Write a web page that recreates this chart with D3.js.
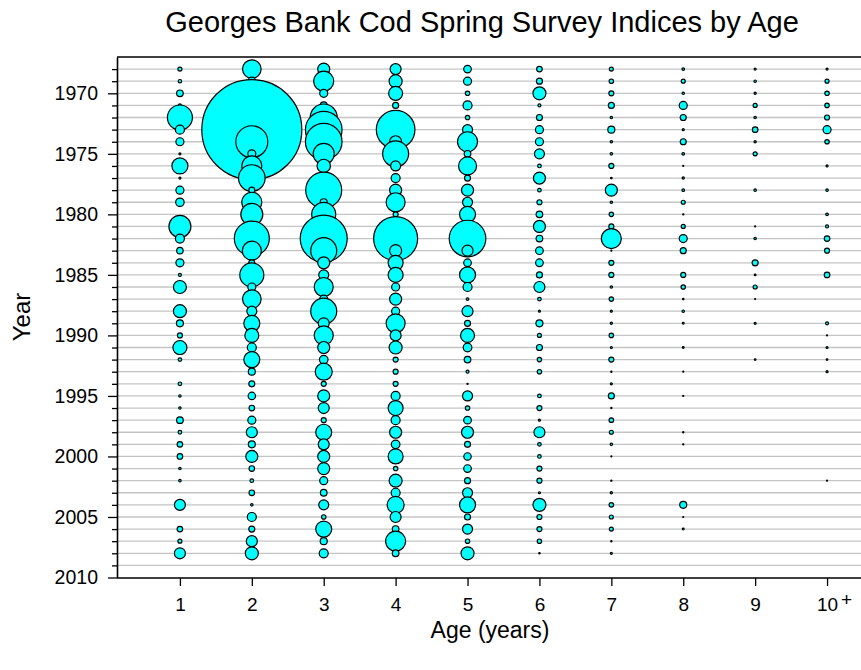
<!DOCTYPE html>
<html>
<head>
<meta charset="utf-8">
<script src="https://cdn.jsdelivr.net/npm/d3@7"></script>
<style>
  html, body { margin: 0; padding: 0; background: #ffffff; }
  svg { display: block; font-family: "Liberation Sans", Arial, sans-serif; }
</style>
</head>
<body>
<svg id="chart" width="861" height="670"></svg>
<script>
// ---------------- DATA ----------------
const years = d3.range(1968, 2009); // 1968..2008
const ages = [1, 2, 3, 4, 5, 6, 7, 8, 9, 10];
const ageLabels = ["1", "2", "3", "4", "5", "6", "7", "8", "9", "10"];
const yearTicks = [1970, 1975, 1980, 1985, 1990, 1995, 2000, 2005, 2010];

// survey index values (relative units), one value per year 1968..2008
const age1 = [0.16, 0.116, 0.44, 0.09, 6.25, 0.81, 0.64, 0.04, 2.56, 0.04,
  0.64, 0.71, 0, 4.84, 0.81, 0.41, 0.64, 0.09, 1.69, 0,
  1.69, 0.49, 0.25, 1.96, 0.13, 0, 0.13, 0.058, 0.058, 0.44,
  0.13, 0.31, 0.31, 0.058, 0.058, 0, 1.21, 0, 0.31, 0.16, 1.21];
const age2 = [3.46, 0.64, 1.44, 1.44, 2.56, 100, 10.24, 0.64, 4.0, 7.08,
  0.36, 4.0, 4.84, 1.0, 12.25, 3.61, 0.36, 5.76, 0.64, 3.46,
  1.0, 2.56, 1.96, 0.81, 2.56, 0.49, 0.36, 0.55, 0.31, 0.64,
  1.21, 0.49, 1.44, 0.31, 0.13, 0.31, 0.058, 0.81, 0.36, 1.21, 1.69];
const age3 = [1.44, 4.0, 0.64, 0.49, 7.29, 13.4, 13.4, 4.41, 1.8, 0.64,
  12.96, 0.49, 5.76, 1.44, 22.09, 6.76, 1.44, 1.0, 3.61, 0.64,
  6.76, 1.21, 3.61, 1.44, 0.74, 2.89, 0.25, 1.44, 1.21, 0.25,
  2.56, 1.21, 1.44, 1.44, 0.64, 0.44, 1.0, 0.194, 2.56, 0.49, 0.81];
const age4 = [1.21, 1.69, 1.96, 0.36, 1.0, 14.9, 1.44, 6.76, 1.0, 0.81,
  1.44, 3.61, 0.25, 1.0, 19.36, 1.44, 2.25, 2.25, 0.64, 1.44,
  0.64, 3.61, 1.21, 1.69, 0.25, 0.25, 0.25, 0.81, 2.25, 0.81,
  1.44, 0.74, 2.25, 0.194, 1.69, 0.81, 2.89, 1.21, 0.44, 4.0, 0.44];
const age5 = [0.58, 0.64, 0.194, 0.81, 0.194, 1.0, 4.0, 0.44, 3.24, 0.36,
  1.44, 1.0, 2.56, 0.64, 13.4, 1.21, 0.58, 2.56, 0.81, 0.068,
  1.21, 0.36, 1.96, 0.74, 0.44, 0.09, 0.014, 1.0, 0.194, 0.58,
  1.44, 0.36, 0.55, 0.58, 0.36, 1.0, 2.56, 0.36, 1.0, 0.194, 1.69];
const age6 = [0.31, 0.36, 1.69, 0.09, 0.36, 0.64, 0.64, 1.0, 0.13, 1.44,
  0.13, 0.25, 0.44, 1.44, 0.44, 0.58, 0.58, 0.36, 1.21, 0.13,
  0.04, 0.49, 0.16, 0.36, 0.194, 0.194, 0, 0.13, 0.25, 0.04,
  1.21, 0.13, 0.13, 0.25, 0.25, 0.04, 1.69, 0.25, 0.25, 0.194, 0.02];
const age7 = [0.16, 0.194, 0.25, 0.36, 0.058, 0.49, 0.058, 0.058, 0.25, 0.026,
  1.44, 0.058, 0.194, 0.25, 4.0, 0.01, 0.25, 0.25, 0.058, 0.194,
  0.04, 0.048, 0.194, 0.04, 0.25, 0.014, 0.04, 0.36, 0.014, 0.21,
  0.16, 0.058, 0.01, 0, 0.014, 0.048, 0.21, 0.16, 0.16, 0.014, 0.04];
const age8 = [0.068, 0.16, 0.058, 0.64, 0.36, 0.04, 0.36, 0.068, 0.01, 0.048,
  0.068, 0.16, 0.014, 0.16, 0.64, 0.36, 0, 0.25, 0.194, 0.02,
  0.058, 0.032, 0, 0.032, 0, 0.01, 0, 0.01, 0, 0,
  0.014, 0.014, 0, 0, 0, 0, 0.49, 0.01, 0.032, 0, 0];
const age9 = [0.04, 0.058, 0.048, 0.16, 0.058, 0.31, 0.048, 0.16, 0, 0,
  0.058, 0, 0, 0.01, 0.058, 0, 0.36, 0.026, 0.16, 0.01,
  0, 0.04, 0, 0, 0.026, 0, 0, 0, 0, 0,
  0, 0, 0, 0, 0, 0, 0, 0, 0, 0, 0];
const age10 = [0.04, 0.16, 0.194, 0.194, 0.25, 0.64, 0.194, 0, 0.04, 0,
  0.058, 0, 0.068, 0.09, 0.31, 0.25, 0, 0.31, 0, 0,
  0, 0.09, 0.01, 0.04, 0.026, 0.04, 0, 0, 0, 0,
  0, 0, 0, 0, 0.01, 0, 0, 0, 0, 0, 0];

const seriesByAge = [age1, age2, age3, age4, age5, age6, age7, age8, age9, age10];

// ---------------- LAYOUT ----------------
const svg = d3.select("#chart");
const plotLeft = 117, plotRight = 861, plotTop = 57, plotBottom = 577.5;

const x = d3.scaleLinear().domain([0.125, 10.5]).range([plotLeft, 863]);
const y = d3.scaleLinear().domain([1967, 2010]).range([plotTop, plotBottom]);
const maxVal = d3.max(seriesByAge, s => d3.max(s));
const r = d3.scaleSqrt().domain([0, maxVal]).range([0, 50]);

// gridlines at every year
svg.append("g")
  .selectAll("line")
  .data(d3.range(1968, 2010))
  .join("line")
  .attr("x1", plotLeft).attr("x2", plotRight)
  .attr("y1", d => y(d)).attr("y2", d => y(d))
  .attr("stroke", "#c4c4c4")
  .attr("stroke-width", 1.3);

// bubbles
const points = [];
years.forEach((yr, i) => {
  ages.forEach((a, j) => {
    const v = seriesByAge[j][i];
    if (v > 0) points.push({ year: yr, age: a, value: v });
  });
});
points.sort((p, q) => p.year - q.year || p.age - q.age);

svg.append("g")
  .selectAll("circle")
  .data(points)
  .join("circle")
  .attr("cx", d => x(d.age))
  .attr("cy", d => y(d.year))
  .attr("r", d => r(d.value))
  .attr("fill", "#00ffff")
  .attr("stroke", "#000")
  .attr("stroke-width", 1.2);

// top frame line
svg.append("line")
  .attr("x1", plotLeft).attr("x2", plotRight)
  .attr("y1", plotTop).attr("y2", plotTop)
  .attr("stroke", "#000").attr("stroke-width", 1.6);

// y axis: major ticks
svg.append("g")
  .attr("transform", `translate(${plotLeft},0)`)
  .call(d3.axisLeft(y).tickValues(yearTicks).tickFormat(d3.format("d"))
    .tickSize(9).tickSizeOuter(0).tickPadding(10));
// minor ticks
svg.append("g")
  .attr("transform", `translate(${plotLeft},0)`)
  .call(d3.axisLeft(y).tickValues(d3.range(1968, 2010).filter(d => d % 5 !== 0))
    .tickFormat("").tickSize(5).tickSizeOuter(0))
  .select(".domain").remove();

// x axis
const xAxis = svg.append("g")
  .attr("transform", `translate(0,${plotBottom + 0.5})`)
  .call(d3.axisBottom(x).tickValues(ages).tickFormat((d, i) => ageLabels[i])
    .tickSize(8).tickSizeOuter(0).tickPadding(12));
xAxis.select(".domain").attr("d", `M${plotLeft},0H${plotRight}`);

svg.selectAll(".domain").attr("stroke", "#000").attr("stroke-width", 1.6);
svg.selectAll(".tick line").attr("stroke", "#000").attr("stroke-width", 1.3);
svg.selectAll(".tick text")
  .attr("fill", "#000")
  .style("font-size", "19.5px")
  .style("font-family", "'Liberation Sans', Arial, sans-serif");
xAxis.selectAll(".tick text").style("font-size", "19px");

// "+" for the 10+ group
svg.append("text")
  .attr("x", x(10) + 14)
  .attr("y", 606)
  .style("font-size", "19px")
  .attr("fill", "#000")
  .text("+");

// titles
svg.append("text")
  .attr("x", 482).attr("y", 32)
  .attr("text-anchor", "middle")
  .style("font-size", "29px")
  .attr("fill", "#000")
  .text("Georges Bank Cod Spring Survey Indices by Age");

svg.append("text")
  .attr("x", 490).attr("y", 638)
  .attr("text-anchor", "middle")
  .style("font-size", "23px")
  .attr("fill", "#000")
  .text("Age (years)");

svg.append("text")
  .attr("transform", "translate(30,317) rotate(-90)")
  .attr("text-anchor", "middle")
  .style("font-size", "24px")
  .attr("fill", "#000")
  .text("Year");
</script>
</body>
</html>
